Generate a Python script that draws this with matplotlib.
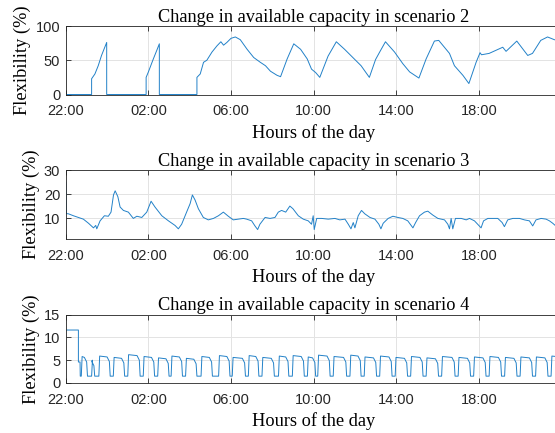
import matplotlib
matplotlib.use("Agg")
import matplotlib.pyplot as plt
import numpy as np

# hours after 22:00
s2_hours = [0, 1.25, 1.25, 1.41, 1.57, 1.73, 1.98, 1.98, 3.89, 3.89, 4.0, 4.24, 4.4, 4.53, 4.53,
            6.35, 6.35, 6.51, 6.67, 6.83, 7.08, 7.32, 7.51, 7.64, 7.8, 8.0, 8.21, 8.45, 8.78,
            9.1, 9.42, 9.67, 9.91, 10.23, 10.4, 10.72, 11.04, 11.37, 11.69, 11.9, 12.1, 12.3,
            12.7, 13.1, 13.5, 13.9, 14.3, 14.7, 15.0, 15.2, 15.48, 15.92, 16.32, 16.65, 17.1,
            17.45, 17.85, 18.06, 18.58, 18.82, 19.23, 19.52, 19.87, 20.06, 20.13, 20.5, 21.16,
            21.32, 21.84, 22.37, 22.6, 23.0, 23.33, 23.66, 24.0]
s2_values = [0, 0, 23, 30, 42, 57, 76, 0, 0, 25, 33, 52, 64, 74, 0,
             0, 25, 30, 47, 50, 62, 71, 77, 72, 76, 82, 84, 80, 66,
             54, 47, 42, 34, 28, 26, 52, 74, 66, 52, 37, 32, 25,
             56, 77, 66, 54, 42, 25, 51, 62, 77, 62, 45, 33, 24,
             52, 78, 79, 60, 42, 28, 16, 47, 61, 58, 60, 69,
             63, 78, 57, 60, 79, 84, 80, 78]

s3_hours = [0, 0.02, 0.13, 0.37, 0.61, 0.85, 1.1, 1.34, 1.45, 1.5, 1.66, 1.87, 2.06, 2.19, 2.31,
            2.39, 2.52, 2.63, 2.79, 3.03, 3.27, 3.44, 3.68, 3.92, 4.13, 4.32, 4.65, 4.97, 5.29,
            5.45, 5.61, 5.85, 6.02, 6.13, 6.26, 6.42, 6.66, 6.9, 7.15, 7.39, 7.63, 7.87, 8.11,
            8.35, 8.6, 8.76, 9.0, 9.16, 9.29, 9.4, 9.65, 9.89, 10.13, 10.29, 10.45, 10.65, 10.85,
            11.0, 11.26, 11.5, 11.74, 11.9, 11.98, 12.03, 12.15, 12.39, 12.71, 13.03, 13.27,
            13.52, 13.68, 13.81, 13.92, 14.0, 14.16, 14.32, 14.48, 14.73, 14.97, 15.16, 15.26,
            15.37, 15.61, 15.84, 16.08, 16.32, 16.56, 16.81, 16.94, 17.13, 17.37, 17.53, 17.77,
            18.02, 18.34, 18.5, 18.58, 18.66, 18.74, 18.87, 19.15, 19.39, 19.55, 19.79, 20.0,
            20.11, 20.23, 20.44, 20.68, 20.92, 21.13, 21.24, 21.4, 21.65, 21.97, 22.21, 22.45,
            22.61, 22.77, 23.02, 23.26, 23.42, 23.58, 23.7, 24.0]
s3_values = [25, 12, 11.9, 11.1, 10.4, 9.7, 8.0, 6.1, 7.1, 5.7, 9.0, 11.1, 10.9, 12.6, 19.7,
             21.4, 19.0, 14.7, 13.3, 12.6, 10.0, 10.9, 10.4, 12.6, 17.1, 14.7, 11.1, 9.0, 7.1,
             5.7, 7.6, 12.6, 16.1, 19.7, 17.6, 14.0, 10.4, 9.4, 10.0, 11.1, 12.6, 10.9, 9.4,
             9.7, 10.0, 9.7, 9.0, 6.9, 5.4, 7.6, 10.4, 10.0, 10.4, 12.6, 13.3, 12.6, 15.1,
             14.0, 11.1, 9.7, 9.0, 7.6, 11.1, 5.4, 10.0, 10.0, 9.7, 10.0, 9.4,
             9.7, 7.6, 5.7, 8.3, 6.1, 11.1, 13.3, 11.9, 10.4, 9.7, 7.6, 5.7,
             8.0, 10.0, 10.9, 10.4, 10.0, 9.0, 6.1, 8.3, 11.1, 12.6, 13.0, 11.4,
             10.0, 9.4, 7.6, 5.7, 10.0, 5.7, 10.0, 10.0, 9.4, 10.0, 9.0, 7.1,
             6.1, 9.0, 10.0, 10.0, 10.0, 8.3, 6.6, 9.4, 10.0, 10.0, 9.4, 9.0,
             6.9, 9.4, 10.0, 9.7, 9.0, 8.0, 7.1, 7.5]

# scenario 4: initial level, then on/off pulses
s4_start_level = 11.6
s4_start_end = 0.61
s4_low = 1.5
s4_rise = [0.75, 1.25, 1.6, 2.3, 3.0, 3.75, 4.45, 5.1, 5.8, 6.55, 7.4, 8.06, 8.84, 9.5, 10.3,
           10.97, 11.7, 12.2, 12.95, 13.76, 14.45, 15.2, 15.95, 16.7, 17.45, 18.2, 19.0, 19.75,
           20.5, 21.25, 22.0, 22.75, 23.5]
s4_fall = [1.05, 1.4, 2.15, 2.85, 3.6, 4.3, 5.0, 5.65, 6.35, 7.1, 7.95, 8.7, 9.35, 10.1, 10.8,
           11.55, 12.1, 12.8, 13.6, 14.3, 15.05, 15.8, 16.55, 17.3, 18.05, 18.85, 19.6, 20.35,
           21.1, 21.85, 22.6, 23.35, 24.1]
s4_level = [5.8, 5.0, 5.9, 5.6, 6.2, 5.8, 5.5, 5.9, 5.4, 5.8, 6.0, 5.6, 6.0, 5.6, 5.9,
            6.0, 5.7, 6.1, 5.8, 6.1, 5.7, 5.9, 5.6, 5.8, 5.5, 5.8, 5.6, 5.7,
            5.8, 5.6, 5.7, 5.7, 5.9]

tick_pos = [0, 4, 8, 12, 16, 20]
tick_lab = ["22:00", "02:00", "06:00", "10:00", "14:00", "18:00"]

# build scenario 4 line
t4 = [0, s4_start_end, s4_start_end, s4_rise[0] - 0.06, s4_rise[0] - 0.05]
v4 = [s4_start_level, s4_start_level, 4.6, 4.6, s4_low]
for r, f, lv in zip(s4_rise, s4_fall, s4_level):
    t4 += [r, r + 0.04, f - 0.15, f - 0.04, f]
    v4 += [s4_low, lv, lv - 0.2, lv - 1.2, s4_low]

line_c = "#2281c8"
serif = "Liberation Serif"
sans = "Liberation Sans"

fig = plt.figure(figsize=(5.55, 4.33), dpi=100)
W, H = 555.0, 433.0
left = 65.8 / W
width = 6 * 82.6 / W
panels = [
    (26, 94.5, s2_hours, s2_values, (0, 100), [0, 50, 100], "Change in available capacity in scenario 2"),
    (170, 239, s3_hours, s3_values, (1.5, 30), [10, 20, 30], "Change in available capacity in scenario 3"),
    (314.5, 383, t4, v4, (0, 15), [0, 5, 10, 15], "Change in available capacity in scenario 4"),
]
for top, bot, x, y, ylim, yt, title in panels:
    ax = fig.add_axes([left, 1 - bot / H, width, (bot - top) / H])
    ax.plot(x, y, color=line_c, lw=0.7)
    ax.set_xlim(0, 24)
    ax.set_ylim(*ylim)
    ax.set_xticks(tick_pos)
    ax.set_xticklabels(tick_lab, family=sans, fontsize=10.5, color="#262626")
    ax.set_yticks(yt)
    ax.set_yticklabels([str(v) for v in yt], family=sans, fontsize=10.5, color="#262626")
    ax.tick_params(direction="in", length=3.5, width=0.6, color="#262626",
                   top=True, right=True)
    ax.tick_params(axis="x", pad=7)
    ax.tick_params(axis="y", pad=4)
    ax.grid(True, color="#e3e3e3", lw=0.7)
    ax.set_axisbelow(True)
    for sp in ax.spines.values():
        sp.set_color("#262626")
        sp.set_linewidth(0.6)
    ax.set_title(title, family=serif, fontsize=13.2, pad=3)
    ax.set_xlabel("Hours of the day", family=serif, fontsize=13.2, labelpad=4)
    ax.set_ylabel("Flexibility (%)", family=serif, fontsize=13.2, labelpad=3)

fig.savefig("out.png", dpi=100)
